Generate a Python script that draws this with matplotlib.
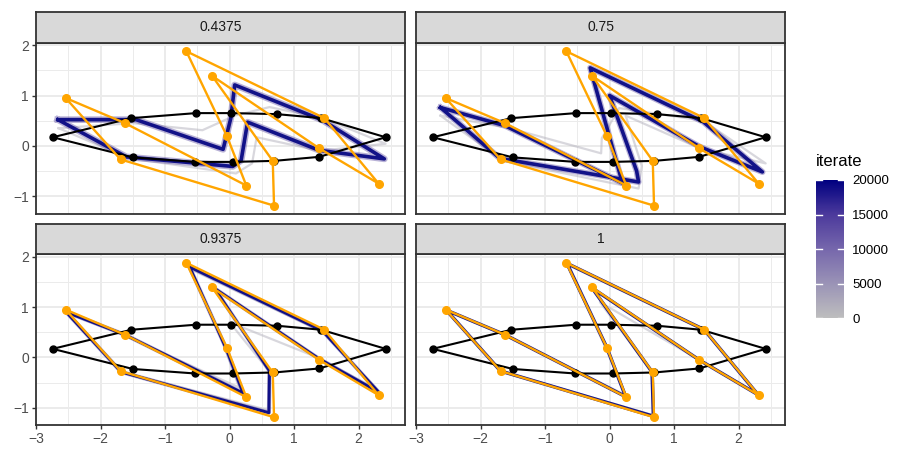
import matplotlib
matplotlib.use("Agg")
import matplotlib.pyplot as plt
import numpy as np
from matplotlib.colors import LinearSegmentedColormap, Normalize
from matplotlib.colorbar import ColorbarBase

plt.rcParams['font.family'] = ['Liberation Sans', 'DejaVu Sans']

# facet labels
facets = ["0.4375", "0.75", "0.9375", "1"]

# starting polygon (black)
black_x = [-2.74, -1.52, -0.52, 0.03, 0.73, 1.42, 2.42, 1.39, 0.69, 0.05, -0.53, -1.50]
black_y = [0.17, 0.55, 0.65, 0.65, 0.63, 0.55, 0.17, -0.22, -0.30, -0.32, -0.32, -0.23]

# target polygon (orange)
orange_x = [-2.54, -1.62, 0.26, -0.04, -0.67, 1.47, 2.31, 1.39, -0.27, 0.67, 0.69, -1.69]
orange_y = [0.95, 0.45, -0.79, 0.19, 1.88, 0.55, -0.75, -0.05, 1.39, -0.30, -1.19, -0.27]

# early iterate per facet (faint grey)
early_iter = 1500
early_x = [
    [-2.65, -1.50, -0.42, 0.08, 0.62, 1.45, 2.42, 1.40, 0.42, 0.35, 0.10, -1.55],
    [-2.62, -1.55, -0.13, -0.12, 0.15, 1.45, 2.42, 1.40, 0.25, 0.50, 0.45, -1.65],
    [-2.50, -1.60, 0.15, -0.15, -0.60, 1.45, 2.30, 1.40, 0.00, 0.60, 0.60, -1.68],
    [-2.53, -1.62, 0.25, -0.10, -0.66, 1.46, 2.30, 1.39, -0.15, 0.65, 0.68, -1.69],
]
early_y = [
    [0.35, 0.45, 0.31, 0.60, 0.77, 0.55, 0.04, -0.10, 0.17, -0.35, -0.55, -0.25],
    [0.60, 0.35, -0.15, 0.15, 0.75, 0.50, -0.35, -0.05, 0.60, -0.40, -0.85, -0.30],
    [0.88, 0.42, -0.60, 0.45, 1.75, 0.50, -0.65, -0.02, 0.70, -0.25, -1.05, -0.28],
    [0.93, 0.44, -0.75, 0.30, 1.85, 0.54, -0.73, -0.05, 1.10, -0.28, -1.15, -0.27],
]

# last iterate per facet (navy)
final_iter = 20000
final_x = [
    [-2.66, -1.45, -0.10, 0.02, 0.08, 1.44, 2.40, 1.39, 0.28, 0.18, 0.05, -1.60],
    [-2.62, -1.62, 0.20, -0.05, -0.30, 1.45, 2.37, 1.40, 0.00, 0.42, 0.45, -1.70],
    [-2.53, -1.62, 0.21, -0.05, -0.62, 1.44, 2.31, 1.39, -0.23, 0.62, 0.61, -1.68],
    [-2.53, -1.62, 0.25, -0.04, -0.66, 1.47, 2.30, 1.39, -0.27, 0.66, 0.68, -1.69],
]
final_y = [
    [0.52, 0.52, -0.07, 0.55, 1.21, 0.51, -0.26, -0.09, 0.47, -0.29, -0.41, -0.22],
    [0.76, 0.40, -0.74, 0.40, 1.55, 0.48, -0.52, -0.02, 1.00, -0.50, -0.72, -0.25],
    [0.90, 0.45, -0.71, 0.17, 1.80, 0.53, -0.69, -0.03, 1.37, -0.27, -1.10, -0.29],
    [0.94, 0.45, -0.78, 0.19, 1.87, 0.55, -0.74, -0.05, 1.38, -0.29, -1.17, -0.27],
]

# how much the iterates spread around the last one, per facet
spread_lw = [4.8, 4.4, 3.0, 0]
navy_lw = [2.6, 2.6, 2.1, 2.5]

cmap = LinearSegmentedColormap.from_list(
    "iter", ["#BEBEBE", "#9A93B6", "#7667AC", "#4C3A9C", "#000080"])
norm = Normalize(0, 20000)


def closed(xs, ys):
    return list(xs) + [xs[0]], list(ys) + [ys[0]]


fig = plt.figure(figsize=(9, 4.49), dpi=100)

W, H = 900.0, 449.0
col_left = [36, 416]
col_w = 369
row_top = [42.7, 254.3]
row_h = 171
strip_h = 30.5

for i, lab in enumerate(facets):
    r, c = divmod(i, 2)
    left = col_left[c] / W
    bottom = 1 - (row_top[r] + row_h) / H
    ax = fig.add_axes([left, bottom, col_w / W, row_h / H])
    sax = fig.add_axes([left, 1 - row_top[r] / H, col_w / W, strip_h / H])

    # strip
    sax.set_facecolor("#D9D9D9")
    sax.set_xticks([])
    sax.set_yticks([])
    for sp in sax.spines.values():
        sp.set_color("#333333")
        sp.set_linewidth(1.3)
    sax.text(0.5, 0.5, lab, ha="center", va="center", fontsize=10, color="#1A1A1A",
             transform=sax.transAxes)

    # panel
    ax.set_facecolor("white")
    ax.set_xlim(-3.0, 2.72)
    ax.set_ylim(-1.35, 2.05)
    ax.set_xticks([-3, -2, -1, 0, 1, 2])
    ax.set_yticks([-1, 0, 1, 2])
    ax.set_xticks(np.arange(-2.5, 2.6, 1.0), minor=True)
    ax.set_yticks([-0.5, 0.5, 1.5], minor=True)
    ax.grid(which="major", color="#EBEBEB", linewidth=1.4)
    ax.grid(which="minor", color="#EBEBEB", linewidth=0.7)
    ax.set_axisbelow(True)
    ax.tick_params(which="minor", length=0)
    ax.tick_params(which="major", length=3, width=1, color="#333333",
                   labelsize=10, labelcolor="#4D4D4D", pad=2)
    if r == 0:
        ax.tick_params(labelbottom=False, bottom=False)
    if c == 1:
        ax.tick_params(labelleft=False, left=False)
    for sp in ax.spines.values():
        sp.set_color("#333333")
        sp.set_linewidth(1.3)

    # iterates
    ex, ey = closed(early_x[i], early_y[i])
    ax.plot(ex, ey, color=cmap(norm(early_iter)), lw=1.6, alpha=0.5,
            solid_joinstyle="round", zorder=2)
    fx, fy = closed(final_x[i], final_y[i])
    if spread_lw[i] > 0:
        ax.plot(fx, fy, color=cmap(norm(12000)), lw=spread_lw[i], alpha=0.45,
                solid_joinstyle="round", zorder=3)
    ax.plot(fx, fy, color=cmap(norm(final_iter)), lw=navy_lw[i], alpha=0.9,
            solid_joinstyle="round", zorder=3)

    # start polygon
    bx, by = closed(black_x, black_y)
    ax.plot(bx, by, color="black", lw=1.5, zorder=4)
    ax.plot(black_x, black_y, "o", color="black", ms=5, zorder=4)

    # target polygon
    ox, oy = closed(orange_x, orange_y)
    ax.plot(ox, oy, color="#FFA500", lw=1.7, zorder=5)
    ax.plot(orange_x, orange_y, "o", color="#FFA500", ms=5.5, zorder=5)

# colour legend
cax = fig.add_axes([816 / W, 1 - 318.3 / H, 28 / W, 138.3 / H])
cb = ColorbarBase(cax, cmap=cmap, norm=norm, orientation="vertical",
                  ticks=[0, 5000, 10000, 15000, 20000])
cb.outline.set_visible(False)
cax.tick_params(length=0, labelsize=9.5, labelcolor="black", pad=6)
for t in [0, 5000, 10000, 15000, 20000]:
    cax.plot([0, 0.2], [t, t], color="white", lw=1, transform=cax.get_yaxis_transform())
    cax.plot([0.8, 1], [t, t], color="white", lw=1, transform=cax.get_yaxis_transform())
fig.text(816 / W, 1 - 162 / H, "iterate", fontsize=12, va="center", ha="left")

fig.savefig("out.png", dpi=100)
